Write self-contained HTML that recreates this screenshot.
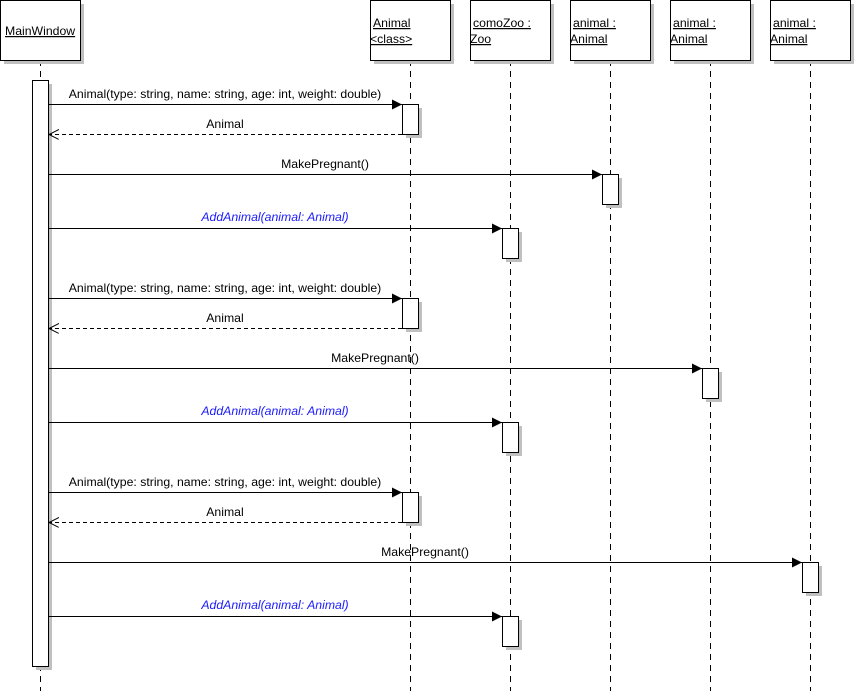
<!DOCTYPE html>
<html><head><meta charset="utf-8"><style>
html,body{margin:0;padding:0;background:#fff;width:855px;height:691px;overflow:hidden}
text{font-family:"Liberation Sans",Arial,sans-serif;font-size:12.25px;fill:#000}
.u{text-decoration:underline}
.b{fill:#1a1aff;font-style:italic}
</style></head><body>
<svg width="855" height="691" xmlns="http://www.w3.org/2000/svg">
<defs>
<marker id="a" markerWidth="12" markerHeight="12" refX="10" refY="5" orient="auto" markerUnits="userSpaceOnUse"><path d="M0,0 L10,5 L0,10 z" fill="#000"/></marker>
<marker id="o" markerWidth="12" markerHeight="12" refX="10" refY="5" orient="auto" markerUnits="userSpaceOnUse"><path d="M0,0 L10,5 L0,10" fill="none" stroke="#000"/></marker>
</defs>
<g stroke="#000" stroke-dasharray="6,5" stroke-width="1">
<line x1="40.5" y1="60" x2="40.5" y2="691"/>
<line x1="410.5" y1="60" x2="410.5" y2="691"/>
<line x1="510.5" y1="60" x2="510.5" y2="691"/>
<line x1="610.5" y1="60" x2="610.5" y2="691"/>
<line x1="710.5" y1="60" x2="710.5" y2="691"/>
<line x1="810.5" y1="60" x2="810.5" y2="691"/>
</g>
<g fill="#c0c0c0">
<rect x="4" y="4" width="80" height="60"/><rect x="374" y="4" width="80" height="60"/><rect x="474" y="4" width="80" height="60"/><rect x="574" y="4" width="80" height="60"/><rect x="674" y="4" width="80" height="60"/><rect x="774" y="4" width="80" height="60"/>
</g>
<g fill="#fff" stroke="#000">
<rect x="0.5" y="0.5" width="80" height="60"/><rect x="370.5" y="0.5" width="80" height="60"/><rect x="470.5" y="0.5" width="80" height="60"/><rect x="570.5" y="0.5" width="80" height="60"/><rect x="670.5" y="0.5" width="80" height="60"/><rect x="770.5" y="0.5" width="80" height="60"/>
</g>
<text x="5" y="35" class="u">MainWindow</text>
<text x="373" y="27" class="u">Animal</text><text x="370" y="43" class="u">&lt;class&gt;</text>
<text x="473" y="27" class="u">comoZoo :</text><text x="470" y="43" class="u">Zoo</text>
<text x="573" y="27" class="u">animal :</text><text x="570" y="43" class="u">Animal</text>
<text x="673" y="27" class="u">animal :</text><text x="670" y="43" class="u">Animal</text>
<text x="773" y="27" class="u">animal :</text><text x="770" y="43" class="u">Animal</text>
<g fill="#c0c0c0">
<rect x="36" y="84" width="16" height="586"/>
<rect x="406" y="108" width="16" height="30"/><rect x="606" y="178" width="16" height="30"/><rect x="506" y="232" width="16" height="30"/>
<rect x="406" y="302" width="16" height="30"/><rect x="706" y="372" width="16" height="30"/><rect x="506" y="426" width="16" height="30"/>
<rect x="406" y="496" width="16" height="30"/><rect x="806" y="566" width="16" height="30"/><rect x="506" y="620" width="16" height="30"/>
</g>
<g fill="#fff" stroke="#000">
<rect x="32.5" y="80.5" width="16" height="586"/>
<rect x="402.5" y="104.5" width="16" height="30"/><rect x="602.5" y="174.5" width="16" height="30"/><rect x="502.5" y="228.5" width="16" height="30"/>
<rect x="402.5" y="298.5" width="16" height="30"/><rect x="702.5" y="368.5" width="16" height="30"/><rect x="502.5" y="422.5" width="16" height="30"/>
<rect x="402.5" y="492.5" width="16" height="30"/><rect x="802.5" y="562.5" width="16" height="30"/><rect x="502.5" y="616.5" width="16" height="30"/>
</g>
<g stroke="#000">
<line x1="49" y1="104.5" x2="402" y2="104.5" marker-end="url(#a)"/>
<line x1="402" y1="134.5" x2="49" y2="134.5" stroke-dasharray="4,3" marker-end="url(#o)"/>
<line x1="49" y1="174.5" x2="602" y2="174.5" marker-end="url(#a)"/>
<line x1="49" y1="228.5" x2="502" y2="228.5" marker-end="url(#a)"/>
<line x1="49" y1="298.5" x2="402" y2="298.5" marker-end="url(#a)"/>
<line x1="402" y1="328.5" x2="49" y2="328.5" stroke-dasharray="4,3" marker-end="url(#o)"/>
<line x1="49" y1="368.5" x2="702" y2="368.5" marker-end="url(#a)"/>
<line x1="49" y1="422.5" x2="502" y2="422.5" marker-end="url(#a)"/>
<line x1="49" y1="492.5" x2="402" y2="492.5" marker-end="url(#a)"/>
<line x1="402" y1="522.5" x2="49" y2="522.5" stroke-dasharray="4,3" marker-end="url(#o)"/>
<line x1="49" y1="562.5" x2="802" y2="562.5" marker-end="url(#a)"/>
<line x1="49" y1="616.5" x2="502" y2="616.5" marker-end="url(#a)"/>
</g>
<g text-anchor="middle">
<text x="225" y="98">Animal(type: string, name: string, age: int, weight: double)</text>
<text x="225" y="128">Animal</text>
<text x="325" y="168">MakePregnant()</text>
<text x="275" y="221" class="b">AddAnimal(animal: Animal)</text>
<text x="225" y="292">Animal(type: string, name: string, age: int, weight: double)</text>
<text x="225" y="322">Animal</text>
<text x="375" y="362">MakePregnant()</text>
<text x="275" y="415" class="b">AddAnimal(animal: Animal)</text>
<text x="225" y="486">Animal(type: string, name: string, age: int, weight: double)</text>
<text x="225" y="516">Animal</text>
<text x="425" y="556">MakePregnant()</text>
<text x="275" y="609" class="b">AddAnimal(animal: Animal)</text>
</g>
</svg>
</body></html>
